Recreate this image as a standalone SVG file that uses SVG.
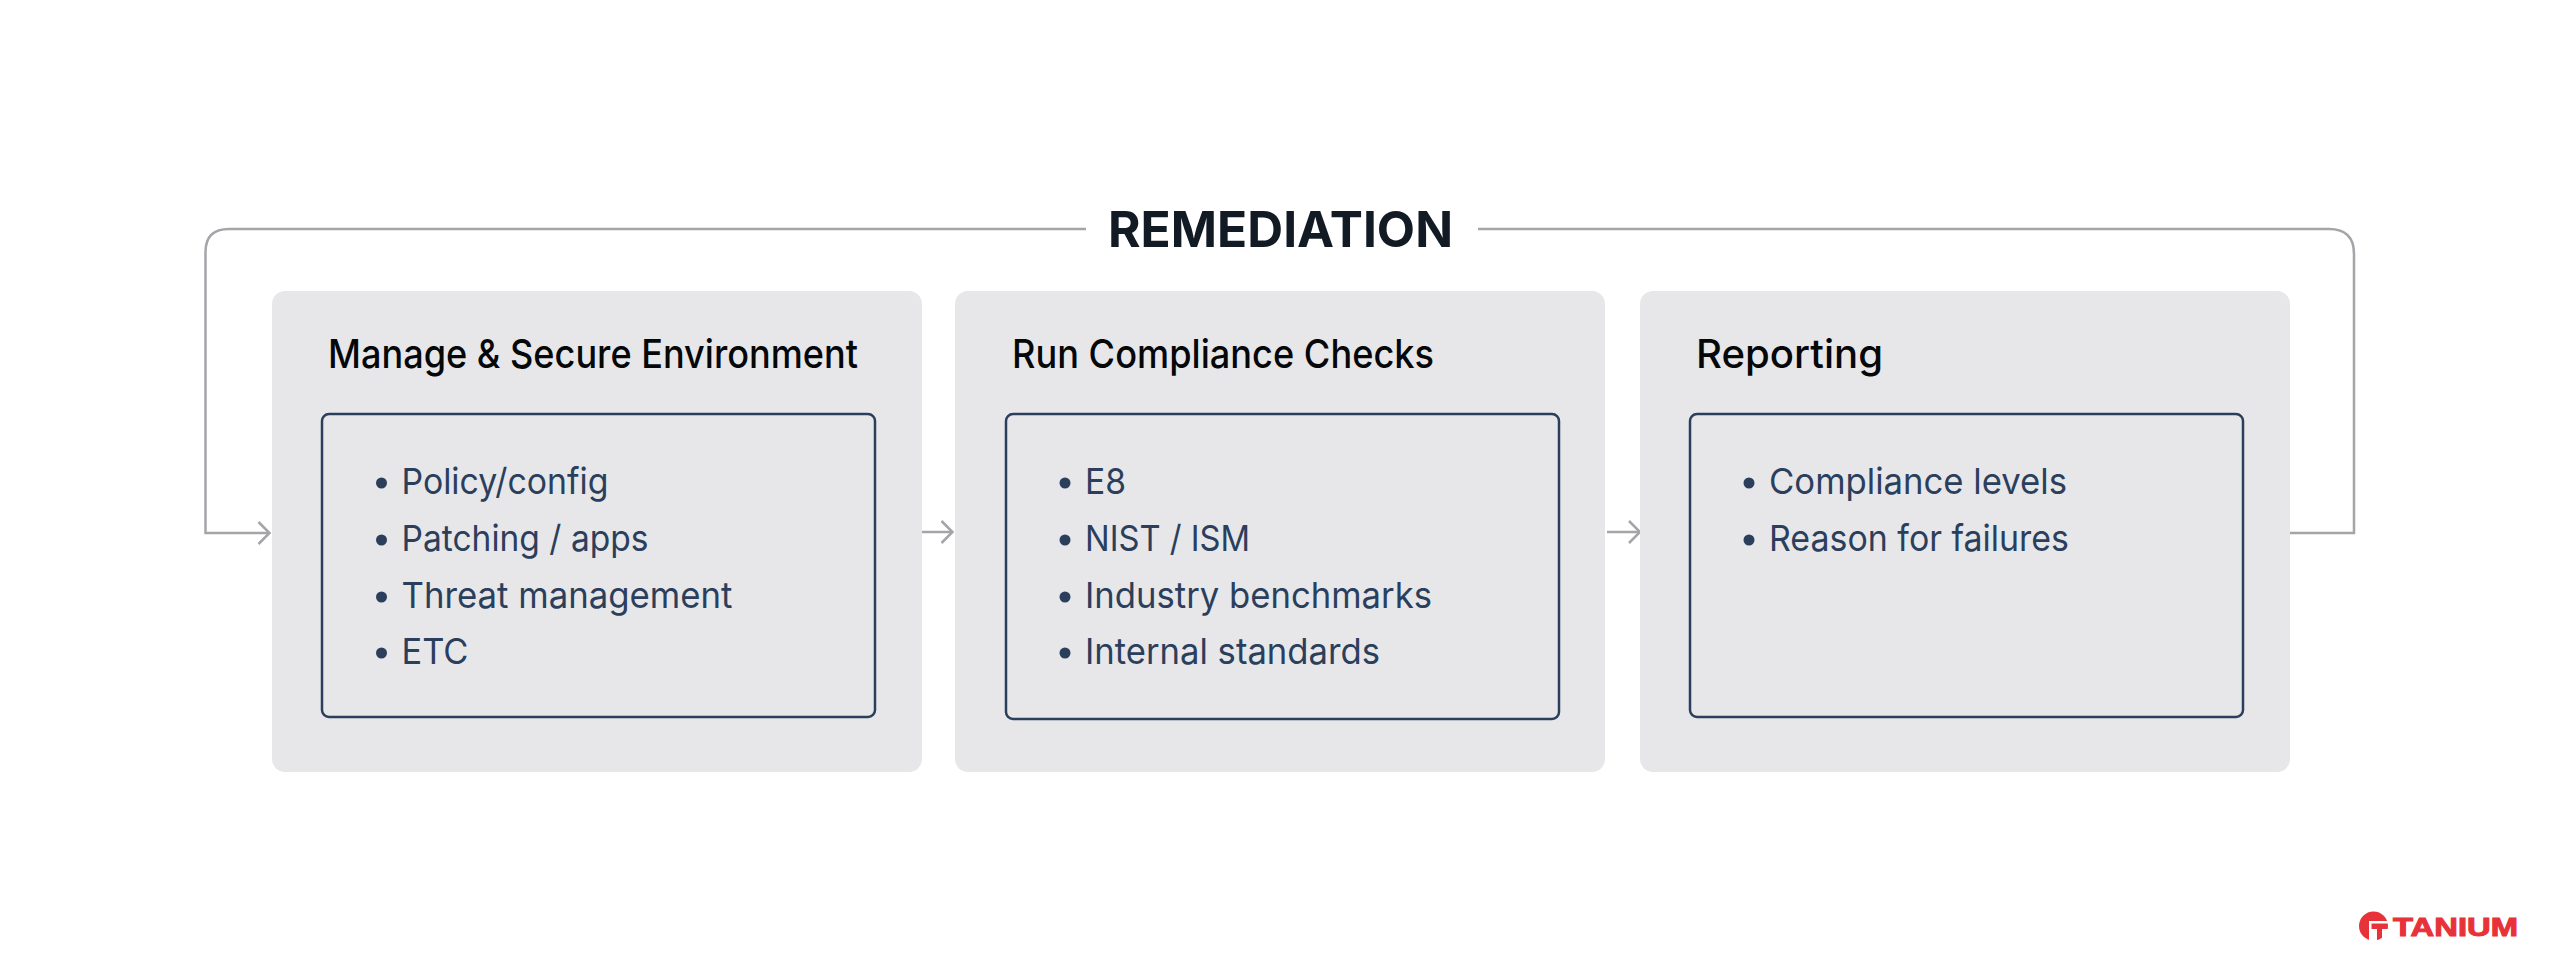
<svg xmlns="http://www.w3.org/2000/svg" width="2560" height="978" viewBox="0 0 2560 978">
<style>
.card{fill:#e7e7ea}
.inner{fill:none;stroke:#2a3f5c;stroke-width:2.500}
.head{font:500 40px Inter,"Liberation Sans",sans-serif;fill:#050709}
.item{font:400 36px Inter,"Liberation Sans",sans-serif;fill:#2b3f5c}
.dot{fill:#2b3f5c}
.line{fill:none;stroke:#a3a5a9;stroke-width:2.500}
.title{font:700 50px Inter,"Liberation Sans",sans-serif;fill:#121a24}
.logo{font:900 25px "Liberation Sans",Arial,sans-serif;fill:#e8323a;stroke:#e8323a;stroke-width:1}
</style>
<defs>
<marker id="arrow" markerUnits="userSpaceOnUse" markerWidth="20" markerHeight="26" refX="15" refY="13" orient="auto"><path d="M4 2L15 13L4 24" fill="none" stroke="#a3a5a9" stroke-width="2.500"/></marker>
</defs>
<rect width="2560" height="978" fill="#fff"/>
<g id="connectors">
<path class="line" d="M1086 229H229Q205.500 229 205.500 252V533H269.500" marker-end="url(#arrow)"/>
<path class="line" d="M1478 229H2329Q2354 229 2354 254V533H2290"/>
<path class="line" d="M921 532H952.500" marker-end="url(#arrow)"/>
<path class="line" d="M1607 532H1640" marker-end="url(#arrow)"/>
</g>
<text id="title" class="title" x="1108" y="247" textLength="345" lengthAdjust="spacingAndGlyphs">REMEDIATION</text>
<g id="node-manage">
<rect class="card" x="272" y="291" width="650" height="481" rx="13"/>
<text class="head" x="328" y="368" textLength="530" lengthAdjust="spacingAndGlyphs">Manage &amp; Secure Environment</text>
<rect class="inner" x="322" y="414" width="553" height="303" rx="7"/>
<circle class="dot" cx="381.500" cy="483" r="5.500"/><text class="item" x="401.500" y="494" textLength="207" lengthAdjust="spacingAndGlyphs">Policy/config</text>
<circle class="dot" cx="381.500" cy="540" r="5.500"/><text class="item" x="401.500" y="551" textLength="247" lengthAdjust="spacingAndGlyphs">Patching / apps</text>
<circle class="dot" cx="381.500" cy="597" r="5.500"/><text class="item" x="401.500" y="608" textLength="331" lengthAdjust="spacingAndGlyphs">Threat management</text>
<circle class="dot" cx="381.500" cy="653" r="5.500"/><text class="item" x="401.500" y="664" textLength="67" lengthAdjust="spacingAndGlyphs">ETC</text>
</g>
<g id="node-checks">
<rect class="card" x="955" y="291" width="650" height="481" rx="13"/>
<text class="head" x="1012" y="368" textLength="422" lengthAdjust="spacingAndGlyphs">Run Compliance Checks</text>
<rect class="inner" x="1006" y="414" width="553" height="305" rx="7"/>
<circle class="dot" cx="1065" cy="483" r="5.500"/><text class="item" x="1085" y="494" textLength="41" lengthAdjust="spacingAndGlyphs">E8</text>
<circle class="dot" cx="1065" cy="540" r="5.500"/><text class="item" x="1085" y="551" textLength="165" lengthAdjust="spacingAndGlyphs">NIST / ISM</text>
<circle class="dot" cx="1065" cy="597" r="5.500"/><text class="item" x="1085" y="608" textLength="347" lengthAdjust="spacingAndGlyphs">Industry benchmarks</text>
<circle class="dot" cx="1065" cy="653" r="5.500"/><text class="item" x="1085" y="664" textLength="295" lengthAdjust="spacingAndGlyphs">Internal standards</text>
</g>
<g id="node-reporting">
<rect class="card" x="1640" y="291" width="650" height="481" rx="13"/>
<text class="head" x="1696" y="368" textLength="187" lengthAdjust="spacingAndGlyphs">Reporting</text>
<rect class="inner" x="1690" y="414" width="553" height="303" rx="7"/>
<circle class="dot" cx="1749" cy="483" r="5.500"/><text class="item" x="1769" y="494" textLength="298" lengthAdjust="spacingAndGlyphs">Compliance levels</text>
<circle class="dot" cx="1749" cy="540" r="5.500"/><text class="item" x="1769" y="551" textLength="300" lengthAdjust="spacingAndGlyphs">Reason for failures</text>
</g>
<g id="logo">
<circle cx="2373.500" cy="926" r="14.500" fill="#e8323a"/>
<path d="M2369 921H2390V923.500H2371.500V929H2377V942H2369ZM2382 929H2390V942H2382Z" fill="#fff"/>
<text class="logo" x="2393" y="936" textLength="125" lengthAdjust="spacingAndGlyphs">TANIUM</text>
</g>
</svg>
